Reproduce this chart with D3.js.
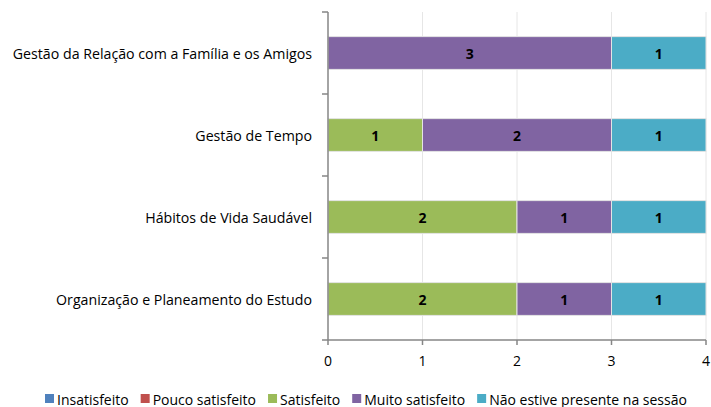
<!DOCTYPE html>
<html lang="pt">
<head>
<meta charset="UTF-8">
<style>
  * { margin: 0; padding: 0; }
  body { background: #fff; overflow: hidden; }
  text { font-family: "Open Sans", "Noto Sans", sans-serif; }
</style>
</head>
<body>
<div id="chart"></div>
<script src="https://cdn.jsdelivr.net/npm/d3@7"></script>
<script>
const categories = [
  'Gestão da Relação com a Família e os Amigos',
  'Gestão de Tempo',
  'Hábitos de Vida Saudável',
  'Organização e Planeamento do Estudo'
]
const seriesNames = ['Insatisfeito', 'Pouco satisfeito', 'Satisfeito', 'Muito satisfeito', 'Não estive presente na sessão']
const insatisfeito = [0, 0, 0, 0]
const poucoSatisfeito = [0, 0, 0, 0]
const satisfeito = [0, 1, 2, 2]
const muitoSatisfeito = [3, 2, 1, 1]
const naoPresente = [1, 1, 1, 1]
const xTicks = [0, 1, 2, 3, 4]
const colors = ['#4F81BD', '#C0504D', '#9BBB59', '#8064A2', '#4BACC6']

function drawChart() {
  const width = 711, height = 407
  const left = 328, right = 706, top = 12, bottom = 340

  const svg = d3.select('#chart').append('svg')
    .attr('width', width).attr('height', height)

  const rows = categories.map((c, i) => {
    const r = { cat: c }
    r[seriesNames[0]] = insatisfeito[i]
    r[seriesNames[1]] = poucoSatisfeito[i]
    r[seriesNames[2]] = satisfeito[i]
    r[seriesNames[3]] = muitoSatisfeito[i]
    r[seriesNames[4]] = naoPresente[i]
    return r
  })
  const stacked = d3.stack().keys(seriesNames)(rows)

  const x = d3.scaleLinear().domain([0, 4]).range([left, right])
  const y = d3.scaleBand().domain(categories).range([top, bottom]).paddingInner(0.6).paddingOuter(0.3)

  // gridlines
  svg.append('g').selectAll('line')
    .data(xTicks.slice(1))
    .join('line')
    .attr('x1', d => x(d)).attr('x2', d => x(d))
    .attr('y1', top).attr('y2', bottom)
    .attr('stroke', '#e6e6e6').attr('stroke-width', 1)

  // bars
  const layers = svg.append('g').selectAll('g')
    .data(stacked)
    .join('g')
    .attr('fill', (d, i) => colors[i])

  layers.selectAll('rect')
    .data(d => d.filter(s => s[1] - s[0] > 0))
    .join('rect')
    .attr('x', d => x(d[0]))
    .attr('y', d => y(d.data.cat))
    .attr('width', d => x(d[1]) - x(d[0]))
    .attr('height', y.bandwidth())
    .attr('stroke', '#e4e4e4').attr('stroke-width', 1)

  layers.selectAll('text')
    .data(d => d.filter(s => s[1] - s[0] > 0))
    .join('text')
    .attr('x', d => (x(d[0]) + x(d[1])) / 2)
    .attr('y', d => y(d.data.cat) + y.bandwidth() / 2)
    .attr('text-anchor', 'middle')
    .attr('dominant-baseline', 'central')
    .attr('fill', '#000')
    .attr('font-weight', 'bold')
    .attr('font-size', 14)
    .text(d => d[1] - d[0])

  // y axis
  const yAxis = svg.append('g')
  yAxis.append('line')
    .attr('x1', left).attr('x2', left).attr('y1', top).attr('y2', bottom)
    .attr('stroke', '#868686').attr('stroke-width', 1.5)
  const step = (bottom - top) / categories.length
  yAxis.selectAll('line.tick')
    .data(d3.range(categories.length + 1))
    .join('line')
    .attr('class', 'tick')
    .attr('x1', left - 6).attr('x2', left)
    .attr('y1', d => top + d * step).attr('y2', d => top + d * step)
    .attr('stroke', '#868686').attr('stroke-width', 1.5)
  yAxis.selectAll('text')
    .data(categories)
    .join('text')
    .attr('x', left - 16)
    .attr('y', d => y(d) + y.bandwidth() / 2)
    .attr('text-anchor', 'end')
    .attr('dominant-baseline', 'central')
    .attr('font-size', 14.2)
    .attr('fill', '#000')
    .text(d => d)

  // x axis
  const xAxis = svg.append('g')
  xAxis.append('line')
    .attr('x1', left).attr('x2', right).attr('y1', bottom).attr('y2', bottom)
    .attr('stroke', '#868686').attr('stroke-width', 1.5)
  xAxis.selectAll('line.tick')
    .data(xTicks)
    .join('line')
    .attr('class', 'tick')
    .attr('x1', d => x(d)).attr('x2', d => x(d))
    .attr('y1', bottom).attr('y2', bottom + 5)
    .attr('stroke', '#868686').attr('stroke-width', 1.5)
  xAxis.selectAll('text')
    .data(xTicks)
    .join('text')
    .attr('x', d => x(d))
    .attr('y', 360)
    .attr('text-anchor', 'middle')
    .attr('dominant-baseline', 'central')
    .attr('font-size', 14)
    .text(d => d)

  // legend
  const legend = svg.append('g').attr('transform', 'translate(0, 399)')
  let lx = 45
  seriesNames.forEach((name, i) => {
    legend.append('rect')
      .attr('x', lx).attr('y', -5).attr('width', 9).attr('height', 9)
      .attr('fill', colors[i])
    const t = legend.append('text')
      .attr('x', lx + 12).attr('y', 0)
      .attr('dominant-baseline', 'central')
      .attr('font-size', 14)
      .text(name)
    lx += 12 + t.node().getComputedTextLength() + 12
  })
}

drawChart()
</script>
</body>
</html>
